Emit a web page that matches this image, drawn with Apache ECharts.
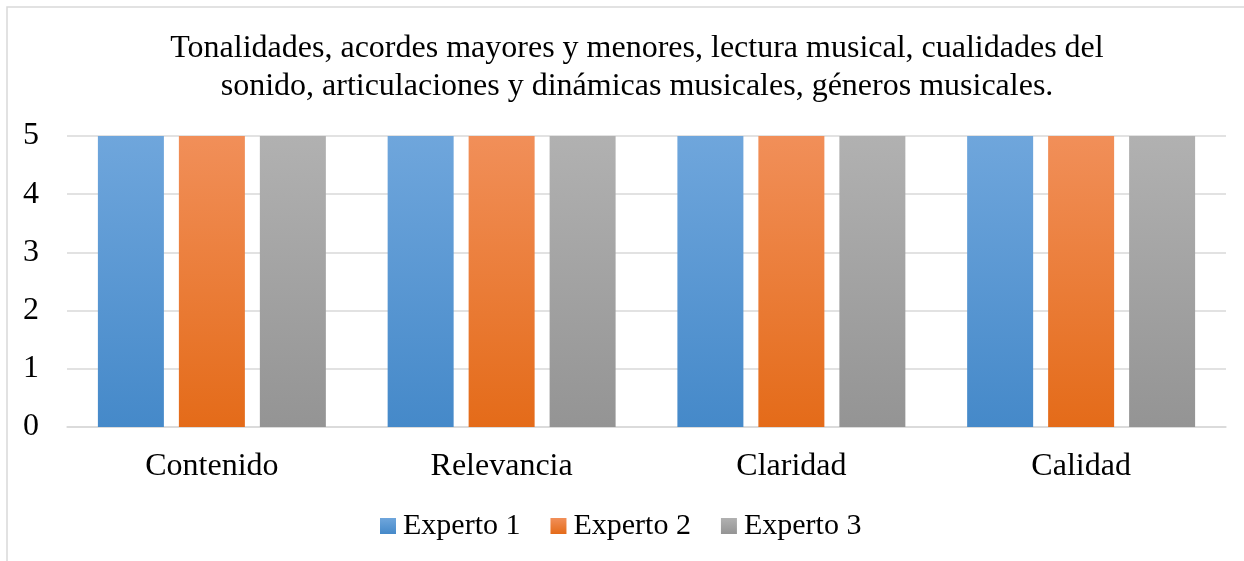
<!DOCTYPE html>
<html>
<head>
<meta charset="utf-8">
<script src="https://cdn.jsdelivr.net/npm/echarts@6/dist/echarts.min.js"></script>
<style>
  html, body { margin: 0; padding: 0; background: #fff; }
  #chart { width: 1244px; height: 561px; }
</style>
</head>
<body>
<div id="chart"></div>
<script>
const categories = ["Contenido", "Relevancia", "Claridad", "Calidad"];
const experto1 = [5, 5, 5, 5];
const experto2 = [5, 5, 5, 5];
const experto3 = [5, 5, 5, 5];
const seriesNames = ["Experto 1", "Experto 2", "Experto 3"];
const titleText = "Tonalidades, acordes mayores y menores, lectura musical, cualidades del\nsonido, articulaciones y dinámicas musicales, géneros musicales.";

const font = '"Liberation Serif", "Times New Roman", serif';

const grad = (top, bottom) => new echarts.graphic.LinearGradient(0, 0, 0, 1, [
  { offset: 0, color: top },
  { offset: 1, color: bottom }
]);

const colors = [
  grad("#6fa6dc", "#4589c9"),
  grad("#f18f59", "#e46b19"),
  grad("#b1b1b1", "#949494")
];

const chart = echarts.init(document.getElementById("chart"), null, { renderer: "canvas" });

const makeSeries = (name, data, i) => ({
  name,
  type: "bar",
  data,
  barWidth: 66,
  barGap: "22.7%",
  itemStyle: { color: colors[i] }
});

chart.setOption({
  animation: false,
  backgroundColor: "#fff",
  graphic: [{
    type: "rect",
    shape: { x: 7, y: 7, width: 1260, height: 600 },
    style: { fill: "none", stroke: "#d9d9d9", lineWidth: 1.5 },
    z: -1
  }],
  title: {
    text: titleText,
    left: 632, top: 25,
    textAlign: "center",
    textStyle: { fontFamily: font, fontSize: 32, fontWeight: "normal", color: "#000", lineHeight: 38 }
  },
  legend: {
    data: seriesNames,
    top: 506,
    left: 375,
    itemWidth: 16, itemHeight: 16,
    itemGap: 30,
    icon: "rect",
    textStyle: { fontFamily: font, fontSize: 30, color: "#000", padding: [0, 0, 0, 2] }
  },
  grid: { left: 67, right: 18, top: 136, bottom: 134, containLabel: false },
  xAxis: {
    type: "category",
    data: categories,
    axisLine: { lineStyle: { color: "#d9d9d9", width: 1.5 } },
    axisTick: { show: false },
    axisLabel: { fontFamily: font, fontSize: 32, color: "#000", margin: 24 }
  },
  yAxis: {
    type: "value",
    min: 0, max: 5, interval: 1,
    axisLine: { show: false },
    axisTick: { show: false },
    splitLine: { lineStyle: { color: "#d9d9d9", width: 1.5 } },
    axisLabel: { fontFamily: font, fontSize: 32, color: "#000", margin: 28 }
  },
  series: [
    makeSeries(seriesNames[0], experto1, 0),
    makeSeries(seriesNames[1], experto2, 1),
    makeSeries(seriesNames[2], experto3, 2)
  ]
});
</script>
</body>
</html>
